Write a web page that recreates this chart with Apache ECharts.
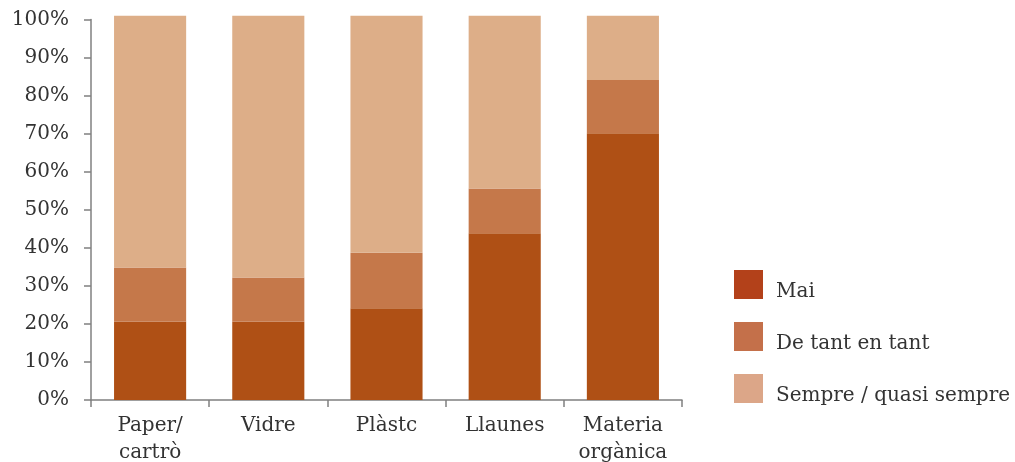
<!DOCTYPE html>
<html><head><meta charset="utf-8">
<script src="https://cdn.jsdelivr.net/npm/echarts@6/dist/echarts.min.js"></script>
<style>html,body{margin:0;padding:0;background:#fff}#c{width:1015px;height:462px}</style>
</head><body><div id="c"></div>
<script>
var categories = ['Paper/\ncartrò', 'Vidre', 'Plàstc', 'Llaunes', 'Materia\norgànica'];
var seriesNames = ['Mai', 'De tant en tant', 'Sempre / quasi sempre'];
var mai = [20.6, 20.6, 24.1, 43.8, 70.1];
var deTant = [14.2, 11.6, 14.6, 11.8, 14.0];
var sempre = [66.2, 68.8, 62.3, 45.4, 16.9];
var yTicks = [0, 10, 20, 30, 40, 50, 60, 70, 80, 90, 100];

var barColors = ['#AF5015', '#C5784A', '#DDAE88'];
var legendColors = ['#B3411A', '#C4704A', '#DCA688'];
var font = 'DejaVu Serif';

var chart = echarts.init(document.getElementById('c'));
var values = [mai, deTant, sempre];
chart.setOption({
  animation: false,
  grid: { left: 91, right: 333, top: 19.5, bottom: 62, containLabel: false, outerBoundsMode: 'none' },
  legend: {
    orient: 'vertical', left: 734, top: 270, padding: 0,
    itemWidth: 29, itemHeight: 29, itemGap: 20.5,
    icon: 'rect',
    data: seriesNames.map(function (n, i) { return { name: n, itemStyle: { color: legendColors[i] } }; }),
    formatter: function (name) { return '{t|' + name + '}'; },
    textStyle: {
      fontFamily: font, fontSize: 20, color: '#333',
      rich: { t: { fontFamily: font, fontSize: 20, color: '#333', padding: [14, 0, 0, 8] } }
    },
    selectedMode: false
  },
  xAxis: {
    type: 'category', data: categories,
    axisLine: { lineStyle: { color: '#808080', width: 1.5 } },
    axisTick: { show: true, length: 7, lineStyle: { color: '#808080', width: 1.5 } },
    axisLabel: { fontFamily: font, fontSize: 20, color: '#333', lineHeight: 27, margin: 12 }
  },
  yAxis: {
    type: 'value', min: 0, max: 100, interval: 10,
    splitLine: { show: false },
    axisLine: { show: true, lineStyle: { color: '#808080', width: 1.5 } },
    axisTick: { show: true, length: 7, lineStyle: { color: '#808080', width: 1.5 } },
    axisLabel: {
      fontFamily: font, fontSize: 20, color: '#333', margin: 22,
      formatter: function (v) { return yTicks.indexOf(v) >= 0 ? v + '%' : ''; }
    }
  },
  series: seriesNames.map(function (n, i) {
    return {
      name: n, type: 'bar', stack: 'total', barWidth: '61%', clip: false,
      data: values[i], itemStyle: { color: barColors[i] }
    };
  })
});
</script></body></html>
